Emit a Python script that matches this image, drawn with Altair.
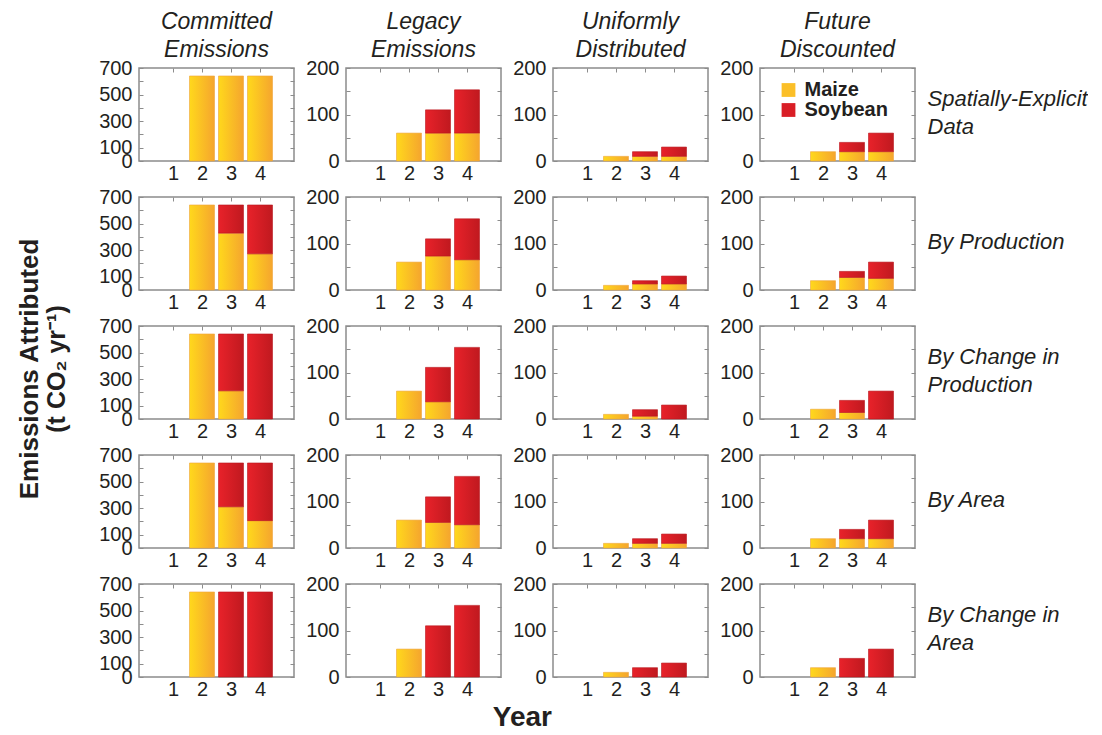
import altair as alt
import pandas as pd

FONT = "Liberation Sans"
TXT = "#231f20"
FRAME = "#8c8c8c"

years = [1, 2, 3, 4]
crops = ["Maize", "Soybean"]
column_titles = [["Committed", "Emissions"], ["Legacy", "Emissions"],
                 ["Uniformly", "Distributed"], ["Future", "Discounted"]]
row_labels = [["Spatially-Explicit", "Data"], ["By Production"],
              ["By Change in", "Production"], ["By Area"], ["By Change in", "Area"]]

y_max = [700, 200, 200, 200]
y_tick_values = [[0, 100, 200, 300, 400, 500, 600, 700],
                 [0, 50, 100, 150, 200], [0, 50, 100, 150, 200], [0, 50, 100, 150, 200]]
y_label_values = [[0, 100, 300, 500, 700], [0, 100, 200], [0, 100, 200], [0, 100, 200]]

# rows: Spatially-Explicit, By Production, By Change in Production, By Area, By Change in Area
maize_committed = [[0, 640, 640, 640], [0, 640, 428, 272], [0, 640, 212, 0], [0, 640, 310, 206], [0, 640, 0, 0]]
soy_committed = [[0, 0, 0, 0], [0, 0, 212, 368], [0, 0, 428, 640], [0, 0, 330, 434], [0, 0, 640, 640]]
maize_legacy = [[0, 60, 60, 60], [0, 60, 73, 65], [0, 60, 37, 0], [0, 60, 55, 50], [0, 60, 0, 0]]
soy_legacy = [[0, 0, 50, 93], [0, 0, 37, 88], [0, 0, 74, 154], [0, 0, 55, 104], [0, 0, 110, 154]]
maize_uniform = [[0, 10, 10, 10], [0, 10, 13, 13], [0, 10, 6, 0], [0, 10, 10, 10], [0, 10, 0, 0]]
soy_uniform = [[0, 0, 10, 20], [0, 0, 7, 17], [0, 0, 14, 30], [0, 0, 10, 20], [0, 0, 20, 30]]
maize_future = [[0, 20, 20, 20], [0, 20, 27, 25], [0, 21, 14, 0], [0, 20, 20, 20], [0, 20, 0, 0]]
soy_future = [[0, 0, 20, 40], [0, 0, 13, 35], [0, 0, 26, 60], [0, 0, 20, 40], [0, 0, 40, 60]]

maize_all = [maize_committed, maize_legacy, maize_uniform, maize_future]
soy_all = [soy_committed, soy_legacy, soy_uniform, soy_future]

MAIZE_GRAD = alt.Gradient(gradient="linear", x1=0, x2=1, y1=0, y2=0,
                          stops=[alt.GradientStop(offset=0, color="#ffd81c"),
                                 alt.GradientStop(offset=1, color="#f5a52e")])
SOY_GRAD = alt.Gradient(gradient="linear", x1=0, x2=1, y1=0, y2=0,
                        stops=[alt.GradientStop(offset=0, color="#e8222a"),
                               alt.GradientStop(offset=1, color="#c0191f")])

PW, PH = 155, 93
H_SPACING = 8
LINE_H = 28


def panel(r, c):
    df = pd.DataFrame({"year": years, "maize": maize_all[c][r], "soybean": soy_all[c][r]})
    xs = alt.Scale(domain=[0, 5], nice=False, zero=False)
    ys = alt.Scale(domain=[0, y_max[c]], nice=False)
    label_expr = "indexof(%s, datum.value) >= 0 ? datum.label : ''" % str(y_label_values[c])
    base = alt.Chart(df)
    maize = base.transform_filter("datum.maize > 0").mark_bar(
        size=25, color=MAIZE_GRAD, stroke="#eea53a", strokeWidth=0.6
    ).encode(
        x=alt.X("year:Q", scale=xs, axis=alt.Axis(
            values=years, format="d", ticks=False, domain=False, grid=False,
            labelPadding=2, labelFontSize=20, labelFont=FONT, labelColor=TXT,
            labelFlush=False, title=None)),
        y=alt.Y("maize:Q", scale=ys, axis=alt.Axis(
            values=y_tick_values[c], labelExpr=label_expr, offset=-4, tickSize=4,
            tickColor=FRAME, tickWidth=1, domain=False, grid=False, labelPadding=7,
            labelFontSize=20, labelFont=FONT, labelColor=TXT, labelOverlap=False,
            labelFlush=False, title=None)),
    )
    right_kwargs = dict(orient="right", values=y_tick_values[c], labels=False, offset=-4,
                        tickSize=4, tickColor=FRAME, tickWidth=1, domain=False, grid=False)
    if c == 3:
        n = len(row_labels[r])
        right_kwargs.update(title=row_labels[r], titleAngle=0, titleAlign="left",
                            titleBaseline="middle", titleX=16,
                            titleY=PH / 2 - (n - 1) * LINE_H / 2 - 2,
                            titleFont=FONT, titleFontSize=22, titleFontStyle="italic",
                            titleFontWeight="normal", titleColor=TXT, titleLineHeight=LINE_H,
                            titleLimit=400)
    else:
        right_kwargs.update(title=None)
    soy = base.transform_filter("datum.soybean > 0").transform_calculate(
        top="datum.maize + datum.soybean"
    ).mark_bar(size=25, color=SOY_GRAD, stroke="#b8161d", strokeWidth=0.6).encode(
        x=alt.X("year:Q", scale=xs, axis=alt.Axis(
            orient="top", values=years, labels=False, offset=-4, tickSize=4,
            tickColor=FRAME, tickWidth=1, domain=False, grid=False, title=None)),
        y=alt.Y("maize:Q", scale=ys, axis=alt.Axis(**right_kwargs)),
        y2="top:Q",
    )
    layers = [maize, soy]
    if r == 0 and c == 3:
        leg = alt.Chart(pd.DataFrame({"crop": crops})).mark_square(opacity=0).encode(
            color=alt.Color("crop:N", scale=alt.Scale(domain=crops, range=["#fbbf28", "#d91e26"]),
                            legend=alt.Legend(orient="none",
                                              legendX=3 * (PW + 40.5 + H_SPACING) + 29,
                                              legendY=12, title=None,
                                              symbolType="square", symbolSize=190, symbolOpacity=1,
                                              symbolStrokeWidth=0, labelFont=FONT, labelFontSize=20,
                                              labelFontWeight="bold", labelColor=TXT, rowPadding=-3,
                                              padding=0, labelOffset=6))
        )
        layers.append(leg)
    ch = alt.layer(*layers).resolve_scale(x="independent", y="independent").properties(width=PW, height=PH)
    if r == 0:
        ch = ch.properties(title=alt.TitleParams(
            text=column_titles[c], font=FONT, fontSize=23, fontStyle="italic", fontWeight="normal",
            color=TXT, anchor="middle", frame="group", offset=-4, lineHeight=LINE_H))
    return ch


rows = [alt.hconcat(*[panel(r, c) for c in range(4)], spacing=H_SPACING) for r in range(5)]
grid = alt.vconcat(*rows, spacing=2).properties(title=alt.TitleParams(
    text="Emissions Attributed", subtitle="(t CO\u2082 yr\u207b\u00b9)", orient="left", anchor="middle",
    font=FONT, fontSize=26, fontWeight="bold", color=TXT, subtitleFont=FONT, subtitleFontSize=25,
    subtitleFontWeight="bold", subtitleColor=TXT, subtitlePadding=2, offset=28, dx=-14))

chart = alt.vconcat(grid).properties(
    title=alt.TitleParams(text="Year", orient="bottom", anchor="middle", font=FONT, fontSize=28,
                          fontWeight="bold", color=TXT, offset=4, dx=-30),
    padding={"left": 8, "top": 2, "right": 0, "bottom": -3},
).configure_view(stroke=FRAME, strokeWidth=1.5)

chart.save("out.html", embed_options={"renderer": "svg", "actions": False})
